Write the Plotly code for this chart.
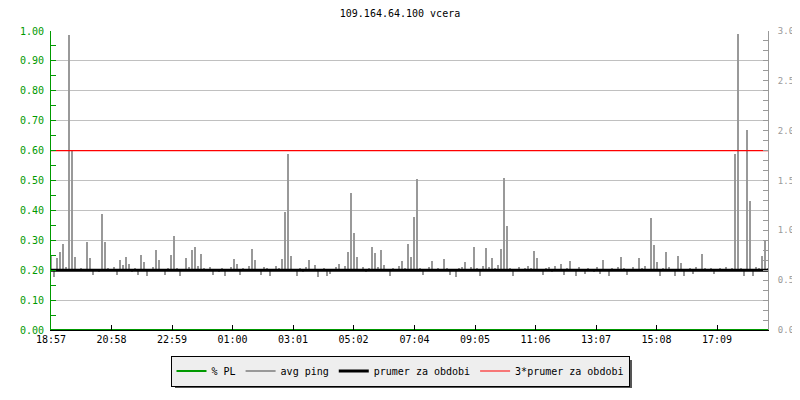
import plotly.graph_objects as go

# chart text
title_text = "109.164.64.100 vcera"
start_label = "18:57"
tick_labels = ["18:57", "20:58", "22:59", "01:00", "03:01", "05:02",
               "07:04", "09:05", "11:06", "13:07", "15:08", "17:09"]

# avg ping (ms), one sample every 6 minutes starting at 18:57
sample_step_min = 6
ping_ms = [
    0.75, 0.53, 0.72, 0.78, 0.86, 0.63, 2.96, 1.80, 0.73, 0.61, 0.62, 0.61, 0.88, 0.72, 0.55, 0.61, 0.59, 1.16, 0.88, 0.62,
    0.61, 0.63, 0.55, 0.70, 0.65, 0.73, 0.66, 0.59, 0.62, 0.55, 0.75, 0.68, 0.54, 0.60, 0.63, 0.80, 0.70, 0.61, 0.55, 0.62,
    0.75, 0.94, 0.62, 0.54, 0.61, 0.72, 0.63, 0.80, 0.83, 0.64, 0.76, 0.62, 0.60, 0.63, 0.55, 0.61, 0.58, 0.62, 0.54, 0.60,
    0.63, 0.71, 0.66, 0.55, 0.62, 0.60, 0.64, 0.81, 0.70, 0.61, 0.55, 0.63, 0.62, 0.54, 0.60, 0.64, 0.62, 0.71, 1.18, 1.77,
    0.74, 0.61, 0.54, 0.62, 0.59, 0.63, 0.70, 0.60, 0.65, 0.53, 0.60, 0.62, 0.54, 0.56, 0.61, 0.63, 0.66, 0.60, 0.64, 0.78,
    1.37, 0.97, 0.73, 0.61, 0.63, 0.59, 0.62, 0.83, 0.77, 0.63, 0.80, 0.65, 0.61, 0.54, 0.62, 0.60, 0.64, 0.69, 0.62, 0.86,
    0.73, 1.13, 1.52, 0.62, 0.55, 0.61, 0.63, 0.69, 0.60, 0.62, 0.61, 0.71, 0.62, 0.55, 0.61, 0.53, 0.62, 0.63, 0.68, 0.61,
    0.63, 0.83, 0.62, 0.54, 0.64, 0.82, 0.63, 0.72, 0.62, 0.65, 0.81, 1.53, 1.04, 0.62, 0.54, 0.61, 0.63, 0.60, 0.62, 0.64,
    0.62, 0.79, 0.72, 0.61, 0.55, 0.62, 0.63, 0.59, 0.64, 0.61, 0.66, 0.55, 0.62, 0.69, 0.60, 0.54, 0.63, 0.61, 0.56, 0.62,
    0.61, 0.59, 0.63, 0.56, 0.70, 0.61, 0.54, 0.62, 0.60, 0.63, 0.73, 0.62, 0.55, 0.61, 0.63, 0.60, 0.72, 0.62, 0.64, 0.61,
    1.12, 0.85, 0.68, 0.54, 0.62, 0.78, 0.63, 0.61, 0.54, 0.74, 0.67, 0.54, 0.60, 0.62, 0.56, 0.63, 0.61, 0.76, 0.62, 0.60,
    0.62, 0.56, 0.61, 0.62, 0.60, 0.63, 0.61, 0.62, 1.77, 2.97, 0.62, 0.54, 2.01, 1.29, 0.54, 0.63, 0.62, 0.74, 0.89, 0.62,
]

# packet loss stays at zero for the whole period
pl_values = [0.0, 0.0]

mean_ping = 0.60  # prumer za obdobi


def minutes_since_start(label):
    h, m = map(int, label.split(":"))
    h0, m0 = map(int, start_label.split(":"))
    return (h * 60 + m - (h0 * 60 + m0)) % 1440


ping_times = [i * sample_step_min for i in range(len(ping_ms))]
x_end = ping_times[-1]
tick_vals = [minutes_since_start(t) for t in tick_labels]

FONT = "DejaVu Sans Mono"
GREEN = "#009900"
GRAY = "#999999"

# the page body has an 8px margin, so the figure is 8px smaller
W, H = 792, 392
M_L, M_R, M_T, M_B = 43, 32, 23, 70
plot_w = W - M_L - M_R
plot_h = H - M_T - M_B


def px_x(px):  # page pixel -> paper x
    return (px - 8 - M_L) / plot_w


def px_y(py):  # page pixel -> paper y
    return (H - M_B - (py - 8)) / plot_h


fig = go.Figure()

fig.add_trace(go.Scatter(
    x=[0, x_end], y=pl_values, name="% PL", mode="lines",
    line=dict(color=GREEN, width=2)
))
# ping drawn as thin strokes going out from the period mean
fig.add_trace(go.Bar(
    x=ping_times, y=[v - mean_ping for v in ping_ms], base=mean_ping,
    yaxis="y2", width=sample_step_min * 0.8, showlegend=False, name="avg ping",
    marker=dict(color=GRAY, line=dict(width=0))
))
fig.add_trace(go.Scatter(
    x=[None], y=[None], mode="lines", yaxis="y2", name="avg ping",
    line=dict(color=GRAY, width=2)
))
fig.add_trace(go.Scatter(
    x=[0, x_end], y=[mean_ping, mean_ping], mode="lines", yaxis="y2",
    name="prumer za obdobi", line=dict(color="black", width=3)
))
fig.add_trace(go.Scatter(
    x=[0, x_end], y=[3 * mean_ping, 3 * mean_ping], mode="lines", yaxis="y2",
    name="3*prumer za obdobi", line=dict(color="red", width=1.2)
))

# legend drop shadow
fig.add_shape(type="rect", xref="paper", yref="paper",
              x0=px_x(175), x1=px_x(632), y0=px_y(360), y1=px_y(388),
              fillcolor="#555555", line=dict(width=0), layer="above")

fig.update_layout(
    width=W, height=H, autosize=False,
    margin=dict(l=M_L, r=M_R, t=M_T, b=M_B, autoexpand=False),
    paper_bgcolor="white", plot_bgcolor="white",
    font=dict(family=FONT, size=10, color="black"),
    bargap=0,
    title=dict(text=title_text, x=px_x(400), xref="paper", xanchor="center",
               y=1 - 5 / H, yref="container", yanchor="middle",
               font=dict(family=FONT, size=10, color="black")),
    xaxis=dict(
        range=[0, x_end], tickvals=tick_vals, ticktext=tick_labels, automargin=False,
        showgrid=False, zeroline=False, showline=True, linecolor="black", linewidth=1,
        ticks="inside", ticklen=5, tickcolor="black",
        tickfont=dict(family=FONT, size=10, color="black")
    ),
    yaxis=dict(
        range=[0, 1], dtick=0.1, tickformat=".2f", automargin=False,
        showgrid=True, gridcolor="#c0c0c0", gridwidth=1, zeroline=False,
        showline=True, linecolor=GREEN, linewidth=1,
        ticks="inside", ticklen=5, tickcolor=GREEN, ticklabelstandoff=4,
        minor=dict(dtick=0.05, ticks="inside", ticklen=5, tickcolor=GREEN, showgrid=False),
        tickfont=dict(family=FONT, size=10, color=GREEN)
    ),
    yaxis2=dict(
        range=[0, 3], dtick=0.5, tickformat=".1f", overlaying="y", side="right",
        automargin=False,
        showgrid=False, zeroline=False, showline=True, linecolor=GRAY, linewidth=1,
        ticks="inside", ticklen=5, tickcolor=GRAY, ticklabelstandoff=7,
        minor=dict(dtick=0.1, ticks="inside", ticklen=5, tickcolor=GRAY, showgrid=False),
        tickfont=dict(family=FONT, size=9, color=GRAY)
    ),
    legend=dict(
        orientation="h", traceorder="normal",
        x=px_x(400), xanchor="center", y=px_y(371), yanchor="middle",
        bgcolor="#eeeeee", bordercolor="black", borderwidth=1,
        font=dict(family=FONT, size=10, color="black"),
        itemwidth=30
    ),
    showlegend=True
)

fig.write_html("out.html")
